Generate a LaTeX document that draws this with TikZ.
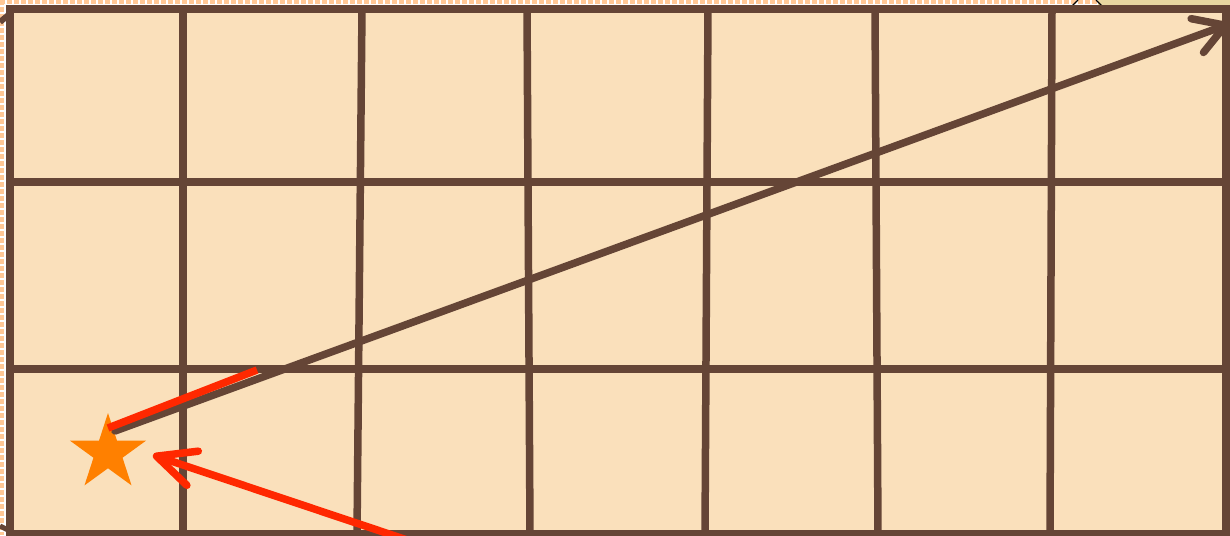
\documentclass[tikz,border=0pt]{standalone}
\usetikzlibrary{arrows.meta,shapes.geometric}
\definecolor{gridbrown}{RGB}{101,69,54}
\definecolor{cellfill}{RGB}{250,224,187}
\definecolor{dashorange}{RGB}{255,200,150}
\definecolor{arrowred}{RGB}{255,40,0}
\definecolor{starorange}{RGB}{255,128,0}
\definecolor{goldbg}{RGB}{232,214,160}
\begin{document}
\begin{tikzpicture}[x=1pt,y=-1pt,
  gridline/.style={draw=gridbrown,line width=7.5pt},
  border/.style={draw=gridbrown,fill=cellfill,line width=8pt},
  outerdash/.style={draw=dashorange,line width=4pt,dash pattern=on 5pt off 2pt},
  brownarrow/.style={draw=gridbrown,line width=7.5pt,line cap=round,
    -{Straight Barb[length=30pt,width=36pt,round]}},
  redarrow/.style={draw=arrowred,line width=7.5pt,line cap=round,
    -{Straight Barb[length=38pt,width=36pt,round]}},
  redline/.style={draw=arrowred,line width=7.5pt},
  goalstar/.style={star,star points=5,star point ratio=2.618,minimum size=80pt,
    inner sep=0pt,fill=starorange,draw=none}]
\useasboundingbox (0,0) rectangle (1230,535);
\clip (0,0) rectangle (1230,535);
\fill[white] (0,0) rectangle (1230,535);
% outer surroundings
\draw[outerdash] (0,2) -- (1100,2);
\draw[outerdash] (2,0) -- (2,535);
\fill[goldbg] (1098,0) rectangle (1230,8);
\draw[black,line width=1.2pt] (1072,6) -- (1078,0);
\draw[black,line width=1.2pt] (1096,0) -- (1102,6);
\draw[gridbrown,line width=6pt] (12,12) -- (0,22);
\draw[gridbrown,line width=5pt] (10,531) -- (0,526);
% board
\draw[border] (10,9) rectangle (1226,534);
\draw[gridline] (183,9) -- (183,534);
\draw[gridline] (362,9) -- (357,534);
\draw[gridline] (527,9) -- (530,534);
\draw[gridline] (708,9) -- (705,534);
\draw[gridline] (875,9) -- (878,534);
\draw[gridline] (1052,9) -- (1050,534);
\draw[gridline] (10,182) -- (1226,182);
\draw[gridline] (10,369) -- (1226,369);
\draw[border,fill=none] (10,9) rectangle (1226,534);
% star and arrows
\node[goalstar] (goal) at (108,453) {};
\coordinate (bstart) at (115,431);
\coordinate (btip) at (1229,24);
\draw[brownarrow] (bstart) -- (btip);
\coordinate (rsegA) at (108,428);
\coordinate (rsegB) at (257,370);
\draw[redline] (rsegA) -- (rsegB);
\coordinate (rstart) at (422,545);
\coordinate (rtip) at (153,455);
\draw[redarrow] (rstart) -- (rtip);
\end{tikzpicture}
\end{document}
